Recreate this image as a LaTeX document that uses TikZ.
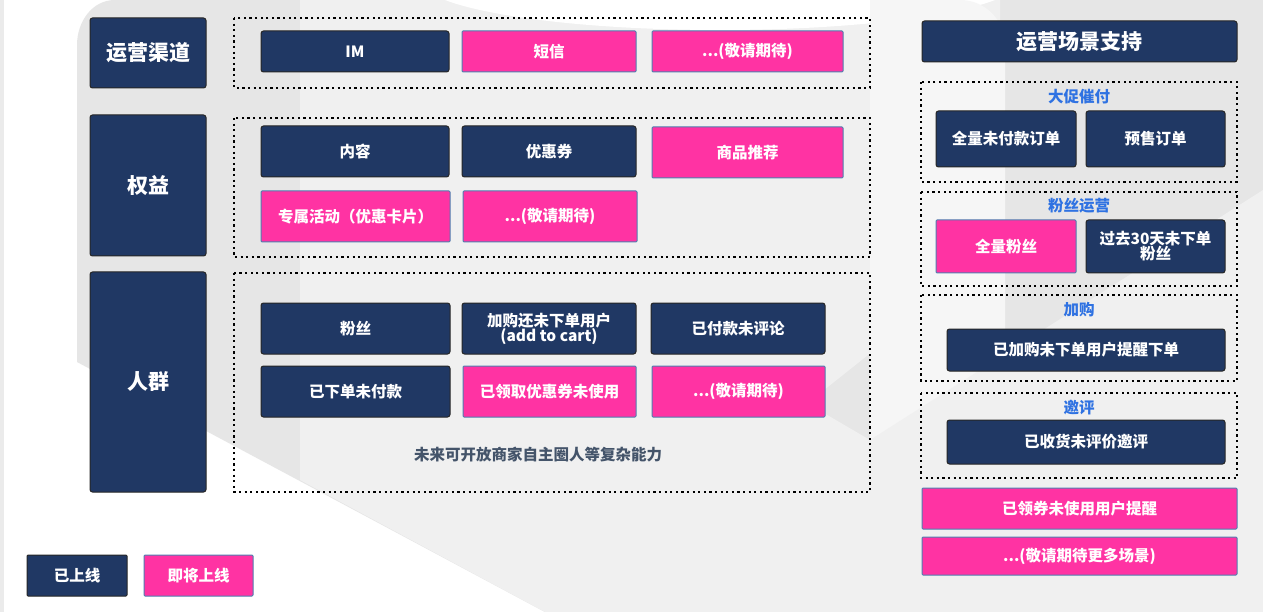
\documentclass[tikz,border=0pt]{standalone}
\usepackage{fontspec}
\setmainfont{Noto Sans CJK SC}
\definecolor{navy}{HTML}{203864}
\definecolor{pinkc}{HTML}{FF33A3}
\definecolor{pinkedge}{HTML}{4F7FB0}
\definecolor{titleblue}{HTML}{2F72E2}
\definecolor{notec}{HTML}{44546A}
\definecolor{bgg}{HTML}{E6E6E6}
\definecolor{bgl}{HTML}{F0F0F0}
\definecolor{bgw}{HTML}{F6F6F6}
\tikzset{
  boxbase/.style={rectangle, inner sep=0pt, align=center, text=white, font=\fontsize{15.5}{18}\selectfont\bfseries, line width=1pt},
  navybox/.style={boxbase, fill=navy, draw=black!85, rounded corners=2.5pt},
  pinkbox/.style={boxbase, fill=pinkc, draw=pinkedge, rounded corners=1pt},
  bigfont/.style={font=\fontsize{21}{24}\selectfont\bfseries},
  dotframe/.style={draw=black, line width=2.2pt, dash pattern=on 2.2pt off 3.4pt},
  grouptitle/.style={text=titleblue, font=\fontsize{15.5}{18}\selectfont\bfseries, inner sep=0pt},
}
\begin{document}
\begin{tikzpicture}[x=1pt,y=-1pt]
% background
\fill[white] (0,0) rectangle (1263,612);
\useasboundingbox (0,0) rectangle (1263,612);
\fill[bgg!80] (0,0) rectangle (4,612);
\fill[bgg] (77,45) to[out=90,in=180] (115,0) -- (1263,0) -- (1263,612) -- (545,612) -- (77,362) -- cycle;
\fill[bgl] (300,0) -- (1000,0) -- (1000,250) -- (545,612) -- (300,480) -- (300,200) -- cycle;
\fill[white] (720,-20) ellipse [x radius=300, y radius=50];
\fill[bgw] (870,0) -- (960,0) to[out=0,in=90] (1005,45) -- (1005,375) -- (870,440) -- cycle;
\fill[bgl] (545,250) -- (870,440) -- (1263,190) -- (1263,612) -- (545,612) -- cycle;

% left labels
\node[navybox, bigfont, minimum width=116pt, minimum height=70pt] (lchan) at (148,53) {运营渠道};
\node[navybox, bigfont, minimum width=116pt, minimum height=141pt] (lright) at (148,185.5) {权益};
\node[navybox, bigfont, minimum width=116pt, minimum height=220pt] (lcrowd) at (148,382) {人群};

% dotted frames
\draw[dotframe] (234,18) rectangle (870,88);
\draw[dotframe] (234,118) rectangle (870,257);
\draw[dotframe] (234,273) rectangle (870,492);

% row 1
\node[navybox, minimum width=188pt, minimum height=41pt] (im) at (355,51.5) {IM};
\node[pinkbox, minimum width=174pt, minimum height=41pt] (sms) at (549,51.5) {短信};
\node[pinkbox, minimum width=191pt, minimum height=41pt] (more1) at (747.5,51.5) {...(敬请期待)};

% row 2
\node[navybox, minimum width=188pt, minimum height=51pt] (content) at (355,151.5) {内容};
\node[navybox, minimum width=174pt, minimum height=51pt] (coupon) at (549,151.5) {优惠券};
\node[pinkbox, minimum width=191pt, minimum height=51pt] (rec) at (747.5,152.5) {商品推荐};
\node[pinkbox, minimum width=189pt, minimum height=51pt] (act) at (355.5,216.5) {专属活动（优惠卡片）};
\node[pinkbox, minimum width=174pt, minimum height=51pt] (more2) at (550,216.5) {...(敬请期待)};

% row 3
\node[navybox, minimum width=189pt, minimum height=51pt] (fans) at (355.5,328.5) {粉丝};
\node[navybox, minimum width=174pt, minimum height=51pt] (cart) at (549,328.5) {加购还未下单用户\\[-3pt](add to cart)};
\node[navybox, minimum width=174pt, minimum height=51pt] (paid) at (738,328.5) {已付款未评论};
\node[navybox, minimum width=189pt, minimum height=51pt] (unpaid) at (355.5,391.5) {已下单未付款};
\node[pinkbox, minimum width=173pt, minimum height=51pt] (unused) at (549.5,391.5) {已领取优惠券未使用};
\node[pinkbox, minimum width=173pt, minimum height=51pt] (more3) at (738.5,391.5) {...(敬请期待)};
\node[inner sep=0pt, text=notec, font=\fontsize{15.5}{18}\selectfont\bfseries] (note) at (538,455) {未来可开放商家自主圈人等复杂能力};

% legend
\node[navybox, rounded corners=1pt, minimum width=100pt, minimum height=41pt] (legon) at (77,575.5) {已上线};
\node[pinkbox, minimum width=109pt, minimum height=41pt] (legsoon) at (198.5,575.5) {即将上线};

% right side
\node[navybox, bigfont, minimum width=315pt, minimum height=41pt] (scene) at (1079.5,41.5) {运营场景支持};

\draw[dotframe] (921,82) rectangle (1237,182);
\node[grouptitle] (t1) at (1079,97) {大促催付};
\node[navybox, minimum width=140pt, minimum height=56pt] (allorder) at (1006,139) {全量未付款订单};
\node[navybox, minimum width=139pt, minimum height=56pt] (presale) at (1155.5,139) {预售订单};

\draw[dotframe] (921,192) rectangle (1237,286);
\node[grouptitle] (t2) at (1079,206) {粉丝运营};
\node[pinkbox, minimum width=140pt, minimum height=53pt] (allfans) at (1006,246.5) {全量粉丝};
\node[navybox, minimum width=139pt, minimum height=53pt] (fans30) at (1155.5,246.5) {过去30天未下单\\[-3pt]粉丝};

\draw[dotframe] (921,295) rectangle (1237,381);
\node[grouptitle] (t3) at (1079,310) {加购};
\node[navybox, minimum width=278pt, minimum height=42pt] (cartremind) at (1086,350) {已加购未下单用户提醒下单};

\draw[dotframe] (921,393) rectangle (1237,478);
\node[grouptitle] (t4) at (1079,408) {邀评};
\node[navybox, minimum width=278pt, minimum height=44pt] (review) at (1086,442) {已收货未评价邀评};

\node[pinkbox, minimum width=315pt, minimum height=41pt] (couponremind) at (1079.5,508.5) {已领券未使用用户提醒};
\node[pinkbox, minimum width=315pt, minimum height=38pt] (moreScene) at (1079.5,556) {...(敬请期待更多场景)};
\end{tikzpicture}
\end{document}
